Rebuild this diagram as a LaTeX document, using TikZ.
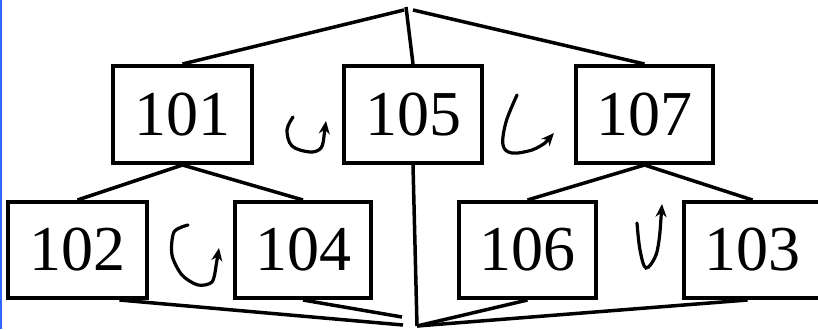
\documentclass[tikz,border=0pt]{standalone}
\usepackage{fontspec}
\setmainfont{Liberation Serif}
\usetikzlibrary{arrows.meta,calc}
\begin{document}
\begin{tikzpicture}[x=1pt,y=-1pt,
  box/.style={draw,line width=4pt,inner sep=0pt,font=\fontsize{64}{64}\selectfont},
  conn/.style={line width=3.5pt},
  turn/.style={line width=3.2pt,line cap=round,-{Stealth[length=13pt,width=11pt]}}]
\useasboundingbox (0,0) rectangle (818,329);
\fill[blue!75!cyan!80] (0,0) rectangle (1.6,329);
\node[box,minimum width=139,minimum height=97] (n101) at (182.5,114.5) {101};
\node[box,minimum width=138,minimum height=97] (n105) at (413,114.5) {105};
\node[box,minimum width=137,minimum height=97] (n107) at (644.5,114.5) {107};
\node[box,minimum width=139,minimum height=96] (n102) at (77.5,250) {102};
\node[box,minimum width=136,minimum height=96] (n104) at (303,250) {104};
\node[box,minimum width=137,minimum height=96] (n106) at (527.5,250) {106};
\node[box,minimum width=137,minimum height=96] (n103) at (752.5,250) {103};
\coordinate (topL) at (404,10);
\coordinate (topR) at (413,10);
\coordinate (botA) at (403,325);
\coordinate (botB) at (402,317);
\coordinate (botC) at (417,326);
\draw[conn] (n101.north) -- (topL);
\draw[conn] (406,7) -- (n105.north);
\draw[conn] (topR) -- (n107.north);
\draw[conn] (n101.south) -- (n102.north);
\draw[conn] (n101.south) -- (n104.north);
\draw[conn] (n107.south) -- (n106.north);
\draw[conn] (n107.south) -- (n103.north);
\draw[conn] (n105.south) -- (botC);
\draw[conn] ($(n102.south)+(42,0)$) -- (botA);
\draw[conn] (n104.south) -- (botB);
\draw[conn] (n106.south) -- (botC);
\draw[conn] ($(n103.south)+(-5,0)$) -- (botC);
% curved arrows
\draw[turn] plot[smooth,tension=0.6] coordinates {(293,117) (287,130) (292,146) (310,152) (321,148) (324,136)} -- (326,121);
\draw[turn] plot[smooth,tension=0.6] coordinates {(517,95) (506,122) (503,145) (512,153) (532,150) (545,143)} -- (554,133);
\draw[turn] plot[smooth,tension=0.5] coordinates {(188,225) (174,232) (172,255) (182,275) (198,285) (212,282) (216,266)} -- (219,248);
\draw[turn] plot[smooth,tension=0.6] coordinates {(637,223) (640,250) (646,268) (656,255) (660,232)} -- (662,204);
\end{tikzpicture}
\end{document}
